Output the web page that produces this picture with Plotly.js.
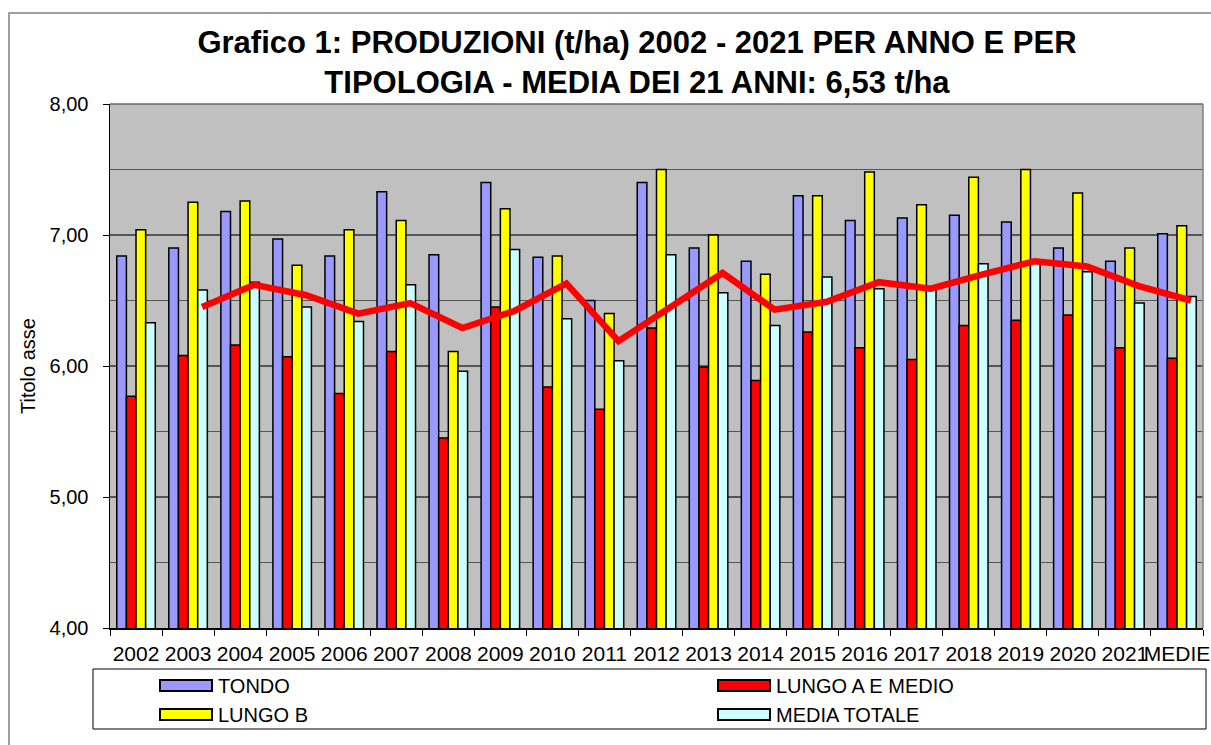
<!DOCTYPE html>
<html>
<head>
<meta charset="utf-8">
<script src="https://cdn.plot.ly/plotly-3.0.1.min.js"></script>
<style>
html,body{margin:0;padding:0;background:#fff;}
#chart{width:1211px;height:745px;}
</style>
</head>
<body>
<div id="chart"></div>
<script>
// ---------- DATA ----------
const categories = ['2002','2003','2004','2005','2006','2007','2008','2009','2010','2011','2012','2013','2014','2015','2016','2017','2018','2019','2020','2021','MEDIE'];
const seriesNames = ['TONDO','LUNGO A E MEDIO','LUNGO B','MEDIA TOTALE'];
const tondo    = [6.84, 6.90, 7.18, 6.97, 6.84, 7.33, 6.85, 7.40, 6.83, 6.50, 7.40, 6.90, 6.80, 7.30, 7.11, 7.13, 7.15, 7.10, 6.90, 6.80, 7.01];
const lungoA   = [5.77, 6.08, 6.16, 6.07, 5.79, 6.11, 5.45, 6.45, 5.84, 5.67, 6.29, 5.99, 5.89, 6.26, 6.14, 6.05, 6.31, 6.35, 6.39, 6.14, 6.06];
const lungoB   = [7.04, 7.25, 7.26, 6.77, 7.04, 7.11, 6.11, 7.20, 6.84, 6.40, 7.50, 7.00, 6.70, 7.30, 7.48, 7.23, 7.44, 7.50, 7.32, 6.90, 7.07];
const mediaTot = [6.33, 6.58, 6.64, 6.45, 6.34, 6.62, 5.96, 6.89, 6.36, 6.04, 6.85, 6.56, 6.31, 6.68, 6.59, 6.58, 6.78, 6.79, 6.72, 6.48, 6.53];
// red line (starts at 2003)
const lineCategories = ['2003','2004','2005','2006','2007','2008','2009','2010','2011','2012','2013','2014','2015','2016','2017','2018','2019','2020','2021','MEDIE'];
const lineValues = [6.45, 6.62, 6.54, 6.40, 6.48, 6.29, 6.42, 6.63, 6.19, 6.45, 6.71, 6.43, 6.49, 6.64, 6.59, 6.70, 6.80, 6.76, 6.61, 6.50];
const yTickVals = [4, 5, 6, 7, 8];

// ---------- STYLE ----------
const colors = ['#9999FF', '#FF0000', '#FFFF00', '#CCFFFF'];
const FONT = 'Liberation Sans, Arial, sans-serif';
const W = 1211, H = 745, L = 110, R = 1203, T = 104, B = 628;
const px = x => (x - L) / (R - L);
const py = y => (B - y) / (B - T);
const idx = categories.map((c, i) => i);
const lineOffset = 0.27;

const seriesValues = [tondo, lungoA, lungoB, mediaTot];
const traces = seriesValues.map((vals, s) => ({
  type: 'bar',
  name: seriesNames[s],
  x: idx,
  y: vals,
  marker: {color: colors[s], line: {color: '#000', width: 1.5}},
  showlegend: false,
  hoverinfo: 'x+y+name'
}));
traces.push({
  type: 'scatter',
  mode: 'lines',
  x: lineCategories.map(c => categories.indexOf(c) + lineOffset),
  y: lineValues,
  line: {color: '#FF0000', width: 6.5},
  showlegend: false
});

// ---------- LEGEND (custom, two columns) ----------
const legendPos = [[160, 685.5], [718, 685.5], [160, 714.5], [718, 714.5]];
const shapes = [
  // outer chart border
  {type: 'rect', xref: 'paper', yref: 'paper', x0: px(9), x1: px(1225), y0: py(13), y1: py(760),
   line: {color: '#808080', width: 1.5}, fillcolor: 'rgba(0,0,0,0)', layer: 'below'},
  // legend box
  {type: 'rect', xref: 'paper', yref: 'paper', x0: px(93), x1: px(1206), y0: py(669), y1: py(729),
   line: {color: '#000', width: 1}, fillcolor: '#fff'}
];
const annotations = [];
seriesNames.forEach((n, s) => {
  const [lx, ly] = legendPos[s];
  shapes.push({type: 'rect', xref: 'paper', yref: 'paper', x0: px(lx), x1: px(lx + 52), y0: py(ly - 5.5), y1: py(ly + 5.5),
    line: {color: '#000', width: 2}, fillcolor: colors[s]});
  annotations.push({xref: 'paper', yref: 'paper', x: px(lx + 56), y: py(ly), xanchor: 'left', yanchor: 'middle',
    text: n, showarrow: false, font: {family: FONT, size: 20, color: '#000'}});
});

const layout = {
  width: W, height: H,
  margin: {l: L, r: W - R, t: T, b: H - B, pad: 0},
  paper_bgcolor: '#FFFFFF',
  plot_bgcolor: '#C0C0C0',
  separators: ',.',
  font: {family: FONT, color: '#000'},
  title: {
    text: '<b>Grafico 1: PRODUZIONI (t/ha) 2002 - 2021 PER ANNO E PER<br>TIPOLOGIA - MEDIA DEI 21 ANNI: 6,53 t/ha</b>',
    font: {family: FONT, size: 31, color: '#000'},
    xref: 'container', x: 637 / W, xanchor: 'center',
    yref: 'container', y: 1 - 53 / H, yanchor: 'top'
  },
  barmode: 'group',
  bargap: 0.26,
  bargroupgap: 0,
  xaxis: {
    type: 'linear',
    range: [-0.5, categories.length - 0.5],
    tickmode: 'array',
    tickvals: idx,
    ticktext: categories,
    tickangle: 0,
    ticks: '',
    ticklabelstandoff: 6,
    tickfont: {family: FONT, size: 21, color: '#000'},
    showgrid: false,
    zeroline: false,
    showline: true, linecolor: '#000', linewidth: 1.5,
    minor: {tick0: 0.5, dtick: 1, ticks: 'outside', ticklen: 6, tickcolor: '#000', tickwidth: 1, showgrid: false},
    fixedrange: true
  },
  yaxis: {
    range: [4, 8],
    tickmode: 'array',
    tickvals: yTickVals,
    tickformat: '.2f',
    ticks: 'outside', ticklen: 6, tickcolor: '#000', tickwidth: 1,
    ticklabelstandoff: 10,
    tickfont: {family: FONT, size: 20, color: '#000'},
    showgrid: true, gridcolor: '#555555', gridwidth: 1.2,
    minor: {dtick: 0.5, tick0: 0, showgrid: true, gridcolor: '#555555', gridwidth: 1.2, ticks: ''},
    zeroline: false,
    showline: true, linecolor: '#000', linewidth: 1.5,
    title: {text: 'Titolo asse', font: {family: FONT, size: 20, color: '#000'}, standoff: 8},
    fixedrange: true
  },
  shapes: shapes.concat([
    // plot area top/right border
    {type: 'line', xref: 'paper', yref: 'paper', x0: 0, x1: 1, y0: 1, y1: 1, line: {color: '#666', width: 1.5}},
    {type: 'line', xref: 'paper', yref: 'paper', x0: 1, x1: 1, y0: 0, y1: 1, line: {color: '#808080', width: 1.5}}
  ]),
  annotations: annotations
};

Plotly.newPlot('chart', traces, layout, {displayModeBar: false, staticPlot: true});
</script>
</body>
</html>
